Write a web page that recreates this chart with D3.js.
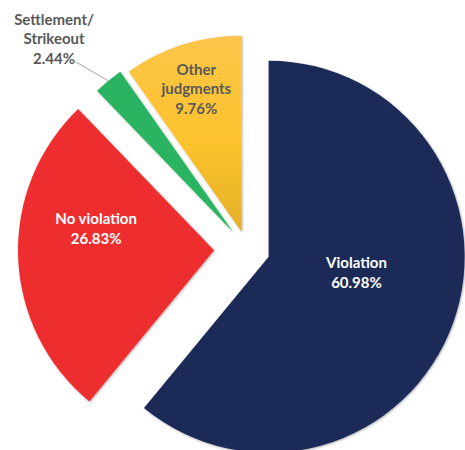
<!DOCTYPE html>
<html>
<head>
<meta charset="utf-8">
<script src="https://cdn.jsdelivr.net/npm/d3@7"></script>
<style>
  body { margin: 0; background: #fff; }
  text { font-family: Lato, "Open Sans", sans-serif; font-weight: bold; }
</style>
</head>
<body>
<script>
var w = 465;
var h = 450;

// data
var categories = ["Violation", "No violation", "Settlement/Strikeout", "Other judgments"];
var values = [60.98, 26.83, 2.44, 9.76];
var labelLines = [["Violation", "60.98%"], ["No violation", "26.83%"], ["Settlement/", "Strikeout", "2.44%"], ["Other", "judgments", "9.76%"]];

// styles
var colors = ["#1e2c59", "#ee2e2f", "#2cb462", "url(#gold)"];
var textColors = ["#ffffff", "#ffffff", "#595959", "#595959"];
var explode = [23, 33, 22, 18];
var labelRadius = [88, 119, 245, 150];
var labelNudge = [[5, -14], [1, -26], [-23, -4], [0, 0]];

var cx = 247, cy = 249, radius = 196;
var lineH = 19.5;

var svg = d3.select("body")
    .append("svg")
    .attr("width", w)
    .attr("height", h);

var defs = svg.append("defs");
var grad = defs.append("linearGradient")
    .attr("id", "gold")
    .attr("x1", 0).attr("y1", 0).attr("x2", 0).attr("y2", 1);
grad.append("stop").attr("offset", "0%").attr("stop-color", "#fdc54a");
grad.append("stop").attr("offset", "55%").attr("stop-color", "#fdc22c");
grad.append("stop").attr("offset", "100%").attr("stop-color", "#e2b02b");

var shadow = defs.append("filter")
    .attr("id", "shadow")
    .attr("x", "-10%").attr("y", "-10%")
    .attr("width", "120%").attr("height", "120%");
shadow.append("feDropShadow")
    .attr("dx", 0.8).attr("dy", 0.8)
    .attr("stdDeviation", 0.9)
    .attr("flood-color", "#000")
    .attr("flood-opacity", 0.35);

var pie = d3.pie()
    .sort(null)
    .value(d => d);

var arcs = pie(values);

var arc = d3.arc()
    .innerRadius(0)
    .outerRadius(radius);

var offset = (a, dist) => {
    var mid = (a.startAngle + a.endAngle) / 2;
    return [Math.sin(mid) * dist, -Math.cos(mid) * dist];
};

var g = svg.append("g")
    .attr("transform", "translate(" + cx + "," + cy + ")");

var slices = g.selectAll("g.slice")
    .data(arcs)
    .enter()
    .append("g")
    .attr("class", "slice")
    .attr("transform", (d, i) => {
        var o = offset(d, explode[i]);
        return "translate(" + o[0] + "," + o[1] + ")";
    });

slices.append("path")
    .attr("d", arc)
    .attr("fill", (d, i) => colors[i])
    .attr("filter", "url(#shadow)");

// leader line for the small slice
var small = arcs[2];
var pOuter = offset(small, radius);
var labelPos = offset(small, labelRadius[2]);
slices.filter((d, i) => i === 2)
    .append("polyline")
    .attr("points", [
        [pOuter[0], pOuter[1]],
        [labelPos[0] + labelNudge[2][0] + 22, labelPos[1] + labelNudge[2][1] + 23]
    ].map(p => p.join(",")).join(" "))
    .attr("fill", "none")
    .attr("stroke", "#a6a6a6")
    .attr("stroke-width", 1);

var labels = slices.append("text")
    .attr("text-anchor", "middle")
    .attr("font-size", "15px")
    .attr("fill", (d, i) => textColors[i])
    .attr("transform", (d, i) => {
        var p = offset(d, labelRadius[i]);
        var n = labelLines[i].length;
        return "translate(" + (p[0] + labelNudge[i][0]) + "," +
            (p[1] + labelNudge[i][1] - (n - 1) * lineH / 2) + ")";
    });

labels.selectAll("tspan")
    .data((d, i) => labelLines[i])
    .enter()
    .append("tspan")
    .attr("x", 0)
    .attr("y", (t, j) => j * lineH)
    .attr("dy", "0.35em")
    .text(t => t);
</script>
</body>
</html>
